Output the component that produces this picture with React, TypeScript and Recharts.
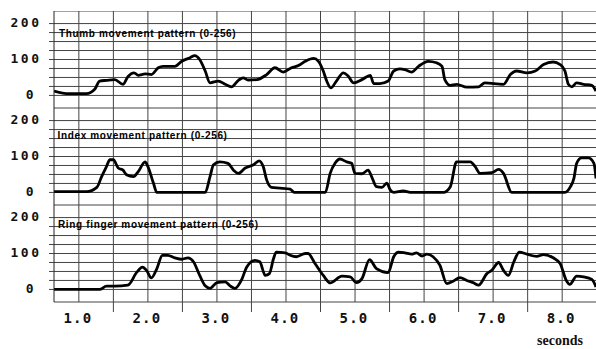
import { LineChart, Line, XAxis, YAxis, ReferenceLine } from "recharts";

// time (s) / value (0-256 scale)
const thumbTime = [0.64, 0.82, 1.11, 1.23, 1.3, 1.4, 1.52, 1.64, 1.71, 1.8, 1.86, 1.96, 2.05, 2.15, 2.22, 2.39, 2.49, 2.61, 2.68, 2.75, 2.83, 2.9, 3.02, 3.12, 3.21, 3.31, 3.38, 3.45, 3.58, 3.72, 3.84, 3.96, 4.08, 4.18, 4.28, 4.4, 4.47, 4.54, 4.59, 4.65, 4.73, 4.83, 4.9, 4.98, 5.1, 5.22, 5.27, 5.36, 5.48, 5.56, 5.65, 5.72, 5.82, 5.92, 6.06, 6.18, 6.26, 6.3, 6.38, 6.47, 6.62, 6.79, 6.88, 7.15, 7.25, 7.34, 7.49, 7.61, 7.73, 7.87, 7.97, 8.04, 8.09, 8.14, 8.21, 8.31, 8.43, 8.49];
const thumbValue = [12, 5, 5, 17, 40, 42, 44, 31, 52, 63, 56, 60, 58, 77, 81, 81, 95, 105, 111, 100, 68, 35, 40, 31, 24, 42, 49, 43, 44, 58, 77, 65, 77, 83, 95, 103, 95, 68, 40, 21, 40, 63, 54, 35, 44, 56, 33, 33, 40, 68, 74, 72, 65, 81, 95, 91, 81, 44, 28, 31, 23, 24, 35, 31, 58, 68, 63, 68, 86, 93, 86, 68, 31, 24, 35, 31, 28, 12];

const indexTime = [0.64, 1.11, 1.26, 1.33, 1.4, 1.45, 1.5, 1.57, 1.64, 1.69, 1.79, 1.86, 1.96, 2.0, 2.08, 2.13, 2.83, 2.9, 2.95, 3.04, 3.16, 3.24, 3.31, 3.41, 3.53, 3.61, 3.67, 3.72, 3.79, 3.91, 4.06, 4.12, 4.57, 4.64, 4.71, 4.78, 4.88, 4.95, 5.0, 5.1, 5.19, 5.24, 5.31, 5.39, 5.46, 5.51, 5.56, 5.7, 5.8, 6.28, 6.38, 6.47, 6.67, 6.74, 6.81, 6.98, 7.08, 7.15, 7.27, 8.04, 8.12, 8.17, 8.21, 8.28, 8.38, 8.46, 8.49];
const indexValue = [2, 2, 14, 44, 72, 91, 91, 68, 62, 49, 44, 58, 85, 72, 26, 0, 0, 44, 77, 85, 81, 62, 53, 68, 77, 88, 72, 35, 14, 12, 9, 0, 0, 53, 81, 93, 85, 81, 53, 52, 62, 44, 16, 14, 26, 7, 0, 4, 0, 0, 16, 85, 85, 72, 53, 55, 64, 53, 0, 0, 16, 39, 81, 96, 96, 81, 39];

const ringTime = [0.64, 1.3, 1.4, 1.52, 1.71, 1.84, 1.92, 1.98, 2.05, 2.13, 2.21, 2.29, 2.39, 2.49, 2.58, 2.66, 2.75, 2.83, 2.9, 3.0, 3.12, 3.19, 3.26, 3.36, 3.43, 3.55, 3.62, 3.7, 3.76, 3.82, 3.86, 3.99, 4.06, 4.15, 4.28, 4.32, 4.42, 4.54, 4.64, 4.81, 4.93, 5.02, 5.1, 5.21, 5.31, 5.48, 5.56, 5.63, 5.72, 5.82, 5.89, 5.97, 6.04, 6.13, 6.23, 6.33, 6.42, 6.52, 6.62, 6.71, 6.79, 6.91, 6.98, 7.08, 7.15, 7.22, 7.3, 7.38, 7.49, 7.63, 7.73, 7.87, 7.97, 8.06, 8.11, 8.21, 8.31, 8.43, 8.49];
const ringValue = [0, 0, 9, 9, 12, 48, 62, 53, 32, 58, 95, 95, 88, 84, 88, 77, 39, 10, 3, 19, 21, 10, 3, 28, 62, 81, 77, 39, 44, 86, 104, 102, 95, 91, 100, 100, 72, 39, 18, 37, 35, 19, 30, 83, 58, 47, 91, 104, 102, 98, 102, 93, 98, 91, 67, 16, 23, 33, 25, 19, 12, 44, 53, 75, 53, 39, 77, 104, 98, 92, 97, 88, 72, 25, 14, 37, 35, 28, 7];

const xGrid = [1, 1.5, 2, 2.5, 3, 3.5, 4, 4.5, 5, 5.5, 6, 6.5, 7, 7.5, 8];
const yGrid = [0, 25, 50, 75, 100, 125, 150, 175, 200];
const yLabels = [0, 100, 200];
const titles = ["Thumb movement pattern (0-256)", "Index movement pattern (0-256)", "Ring finger movement pattern (0-256)"];

const X_DOMAIN: [number, number] = [0.64, 8.49];
const Y_DOMAIN: [number, number] = [-35, 235];
const PANEL_H = 97;
const GRID = "#444";
const MONO = "'DejaVu Sans Mono', 'Liberation Mono', monospace";

const toRows = (t: number[], v: number[]) => t.map((x, i) => ({ t: x, v: v[i] }));

function YTick({ x, y, payload }: any) {
  const v = payload.value;
  if (!yLabels.includes(v)) return null;
  return (
    <text
      x={v === 0 ? x - 18 : x - 23}
      y={y - 1}
      textAnchor="middle"
      dominantBaseline="central"
      fontFamily={MONO}
      fontWeight="bold"
      fontSize={13}
      letterSpacing={2.5}
      fill="#111"
    >
      {v}
    </text>
  );
}

function XTick({ x, y, payload }: any) {
  const v = payload.value;
  if (!Number.isInteger(v)) {
    return <line x1={x} x2={x} y1={y} y2={y + 10} stroke={GRID} />;
  }
  return (
    <text x={x - 1} y={y + 21} textAnchor="middle" fontFamily={MONO} fontWeight="bold" fontSize={14} letterSpacing={1.2} fill="#111">
      {v.toFixed(1)}
    </text>
  );
}

function Panel({ rows, top, axis }: { rows: { t: number; v: number }[]; top: number; axis?: boolean }) {
  return (
    <div style={{ position: "absolute", left: 0, top }}>
      <LineChart width={596} height={PANEL_H + (axis ? 46 : 0)} data={rows} margin={{ top: 0, right: 0, bottom: 0, left: 0 }}>
        <XAxis
          type="number"
          dataKey="t"
          domain={X_DOMAIN}
          allowDataOverflow
          ticks={xGrid}
          interval={0}
          hide={!axis}
          height={46}
          axisLine={false}
          tickLine={false}
          tickSize={0}
          tickMargin={0}
          tick={<XTick />}
        />
        <YAxis
          type="number"
          domain={Y_DOMAIN}
          allowDataOverflow
          ticks={yGrid}
          interval={0}
          width={54}
          tickSize={5}
          tickMargin={0}
          tickLine={{ stroke: GRID }}
          axisLine={{ stroke: "#222" }}
          tick={<YTick />}
        />
        {[Y_DOMAIN[1], ...yGrid, Y_DOMAIN[0]].map((v) => (
          <ReferenceLine key={"h" + v} y={v} stroke={GRID} strokeWidth={1} />
        ))}
        {xGrid.map((v) => (
          <ReferenceLine key={"v" + v} x={v} stroke={GRID} strokeWidth={1} />
        ))}
        <Line
          type="monotone"
          dataKey="v"
          stroke="#000"
          strokeWidth={2.8}
          dot={false}
          isAnimationActive={false}
        />
      </LineChart>
    </div>
  );
}

export default function App() {
  const titleStyle = {
    fontFamily: "'Liberation Sans', Arial, sans-serif",
    fontWeight: "bold" as const,
    fontSize: 10,
    letterSpacing: 0.65,
    fill: "#000",
  };
  return (
    <div style={{ position: "absolute", left: 0, top: 0, width: 596, height: 349, background: "#fff", overflow: "hidden" }}>
      <Panel rows={toRows(thumbTime, thumbValue)} top={11} />
      <Panel rows={toRows(indexTime, indexValue)} top={108} />
      <Panel rows={toRows(ringTime, ringValue)} top={205} axis />
      <svg width={596} height={349} style={{ position: "absolute", left: 0, top: 0, pointerEvents: "none" }}>
        <text x={59} y={37} {...titleStyle}>{titles[0]}</text>
        <text x={57.5} y={138.5} {...titleStyle}>{titles[1]}</text>
        <text x={58} y={228} {...titleStyle}>{titles[2]}</text>
        <text x={537} y={345} fontFamily="'Liberation Serif', 'Times New Roman', serif" fontWeight="bold" fontSize={14} fill="#111">
          seconds
        </text>
      </svg>
    </div>
  );
}
